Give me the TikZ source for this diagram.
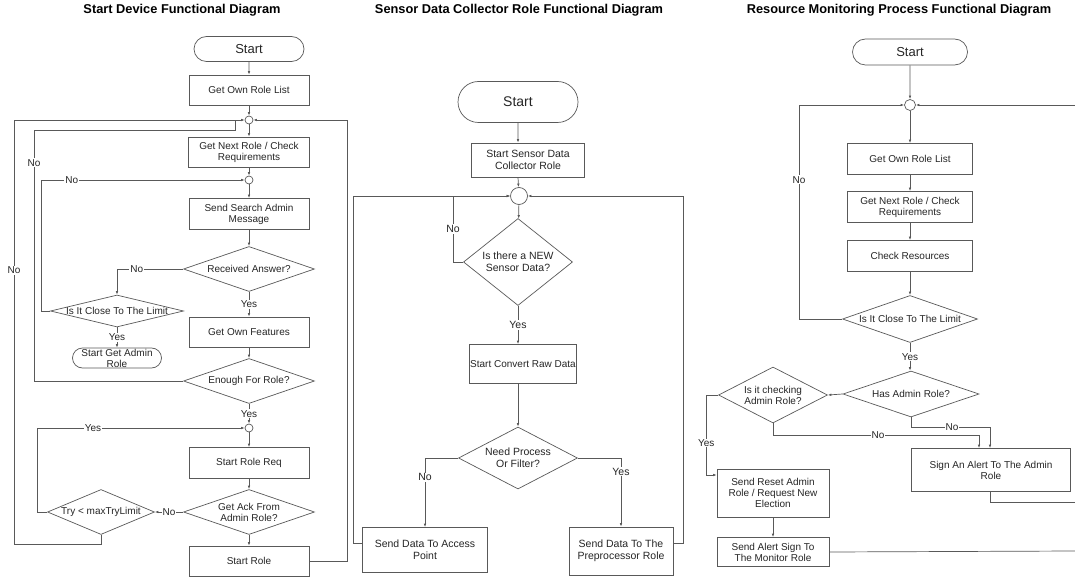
\documentclass[tikz,border=0pt]{standalone}
\usepackage{fontspec}
\setmainfont{Liberation Sans}
\usetikzlibrary{shapes.geometric,shapes.misc,arrows.meta}

\begin{document}
\begin{tikzpicture}[x=1pt, y=-1pt,
    every node/.style = {font=\fontsize{10}{11}\selectfont, text=black!85, align=center},
    proc/.style = {rectangle, draw=black!65, line width=0.7pt, inner sep=1pt},
    term/.style = {rounded rectangle, draw=black!65, line width=0.7pt, inner sep=1pt,
      font=\fontsize{13}{15}\selectfont},
    decision/.style = {diamond, draw=black!65, line width=0.7pt, inner sep=0pt},
    junct/.style = {circle, draw=black!65, line width=0.7pt, inner sep=0pt, minimum size=8},
    title/.style = {font=\bfseries\fontsize{12.8}{14}\selectfont, text=black},
    mid/.style = {font=\fontsize{10.5}{12}\selectfont},
    flow/.style = {draw=black!65, line width=0.7pt, -{Latex[length=3.5pt,width=2.6pt]}},
    wire/.style = {draw=black!65, line width=0.7pt},
    lbl/.style = {fill=white, inner sep=1pt}]
  \path[use as bounding box, fill=white] (0,0) rectangle (1075,577);

  \node[title] (t1) at (182,10) {Start Device Functional Diagram};
  \node[term, minimum width=112, minimum height=25] (s1) at (249,49) {Start};
  \node[proc, minimum width=120, minimum height=30] (own1) at (249,90) {Get Own Role List};
  \node[junct] (j1) at (249,120) {};
  \node[proc, minimum width=121, minimum height=30] (next1) at (249,152) {Get Next Role / Check\\Requirements};
  \node[junct] (j2) at (249,180) {};
  \node[proc, minimum width=120, minimum height=31] (send1) at (249,214) {Send Search Admin\\Message};
  \node[decision, minimum width=131, minimum height=45, label=center:Received Answer?] (recv) at (249,269) {};
  \node[decision, minimum width=133, minimum height=32, label=center:Is It Close To The Limit] (close1) at (117,311) {};
  \node[term, minimum width=91, minimum height=20, label=center:Start Get Admin\\Role] (sga) at (117,358) {};
  \node[proc, minimum width=120, minimum height=30] (feat1) at (249,332) {Get Own Features};
  \node[decision, minimum width=131, minimum height=45, label=center:Enough For Role?] (enough) at (249,381) {};
  \node[junct] (j3) at (249,428) {};
  \node[proc, minimum width=120, minimum height=31] (req1) at (249,463) {Start Role Req};
  \node[decision, minimum width=131, minimum height=45, label=center:Get Ack From\\Admin Role?] (ack) at (249,512) {};
  \node[decision, minimum width=107, minimum height=45, label=center:Try < maxTryLimit] (try) at (101,512) {};
  \node[proc, minimum width=120, minimum height=30] (role1) at (249,561) {Start Role};

  \draw[flow] (s1) -- (own1);
  \draw[flow] (own1) -- (j1);
  \draw[flow] (j1) -- (next1);
  \draw[flow] (next1) -- (j2);
  \draw[flow] (j2) -- (send1);
  \draw[flow] (send1) -- (recv);
  \draw[flow] (recv) -- node[lbl]{Yes} (feat1);
  \draw[flow] (recv.west) -| node[lbl, pos=0.35]{No} (close1.north);
  \draw[flow] (close1) -- node[lbl]{Yes} (sga);
  \draw[flow] (close1.west) -- ++(-9,0) |- node[lbl, pos=0.575]{No} (j2.west);
  \draw[flow] (feat1) -- (enough);
  \draw[flow] (enough) -- node[lbl]{Yes} (j3);
  \draw[wire] (enough.west) -- (34,381) -- node[lbl, pos=0.87]{No} (34,130) -- (235,130) -- (235,120);
  \draw[flow] (try.south) -- (101,544) -- (14,544) -- node[lbl, pos=0.646]{No} (14,120) -- (j1.west);
  \draw[flow] (j3) -- (req1);
  \draw[flow] (req1) -- (ack);
  \draw[flow] (ack) -- (role1);
  \draw[flow] (ack.west) -- node[lbl]{No} (try.east);
  \draw[flow] (try.west) -- (37,512) |- node[lbl, pos=0.635]{Yes} (j3.west);
  \draw[flow] (role1.east) -- (347,561) |- (j1.east);

  \node[title] (t2) at (519,10) {Sensor Data Collector Role Functional Diagram};
  \node[term, minimum width=122, minimum height=41, font=\fontsize{14}{16}\selectfont] (s2) at (518,102) {Start};
  \node[proc, mid, minimum width=113, minimum height=34] (ssd) at (528,160) {Start Sensor Data\\Collector Role};
  \node[junct, minimum size=17] (j4) at (519,196) {};
  \node[decision, minimum width=109, minimum height=87,
    label={[mid]center:Is there a NEW\\Sensor Data?}] (newd) at (518,262) {};
  \node[proc, minimum width=107, minimum height=39] (conv) at (523,364) {Start Convert Raw Data};
  \node[decision, minimum width=119, minimum height=62,
    label={[mid]center:Need Process\\Or Filter?}] (need) at (518,458) {};
  \node[proc, mid, minimum width=125, minimum height=45] (ap) at (425,550) {Send Data To Access\\Point};
  \node[proc, mid, minimum width=104, minimum height=48] (pre) at (621,551) {Send Data To The\\Preprocessor Role};

  \draw[flow] (s2) -- (s2 |- ssd.north);
  \draw[flow] (s2 |- ssd.south) -- (j4);
  \draw[flow] (j4) -- (newd);
  \draw[flow] (newd) -- node[lbl, mid]{Yes} (newd |- conv.north);
  \draw[flow] (conv.south -| need) -- (need);
  \draw[flow] (newd.west) -- (453,262) -- node[lbl, mid]{No} (453,196) -- (j4.west);
  \draw[flow] ([yshift=7]ap.west) -- (353,543) |- (j4.west);
  \draw[flow] ([yshift=8]pre.east) -- (683,543) |- (j4.east);
  \draw[flow] (need.west) -| node[lbl, mid, pos=0.64]{No} (ap.north);
  \draw[flow] (need.east) -| node[lbl, mid, pos=0.6]{Yes} (pre.north);

  \node[title] (t3) at (899,10) {Resource Monitoring Process Functional Diagram};
  \node[term, minimum width=117, minimum height=26] (s3) at (910,52) {Start};
  \node[junct, minimum size=11] (j5) at (910,105) {};
  \node[proc, minimum width=125, minimum height=31] (own3) at (910,159) {Get Own Role List};
  \node[proc, minimum width=125, minimum height=31] (next3) at (910,207) {Get Next Role / Check\\Requirements};
  \node[proc, minimum width=125, minimum height=31] (chk) at (910,256) {Check Resources};
  \node[decision, minimum width=135, minimum height=47, label=center:Is It Close To The Limit] (close3) at (910,319) {};
  \node[decision, minimum width=136, minimum height=46, label=center:Has Admin Role?] (hasadm) at (911,394) {};
  \node[decision, minimum width=109, minimum height=56, label=center:Is it checking\\Admin Role?] (isadm) at (773,395) {};
  \node[proc, minimum width=159, minimum height=43] (alert) at (991,470) {Sign An Alert To The Admin\\Role};
  \node[proc, minimum width=112, minimum height=48] (reset) at (773,493) {Send Reset Admin\\Role / Request New\\Election};
  \node[proc, minimum width=112, minimum height=29] (mon) at (773,552) {Send Alert Sign To\\The Monitor Role};
  \coordinate (e0) at (1075,105);
  \coordinate (e1) at (1075,502);
  \coordinate (e2) at (1075,551);

  \draw[flow] (s3) -- (j5);
  \draw[flow] (j5) -- (own3);
  \draw[flow] (own3) -- (next3);
  \draw[flow] (next3) -- (chk);
  \draw[flow] (chk) -- (close3);
  \draw[flow] (close3.west) -- (799,319) -- node[lbl, pos=0.65]{No} (799,105) -- (j5.west);
  \draw[flow] (e0) -- (j5.east);
  \draw[flow] (close3) -- node[lbl]{Yes} (close3 |- hasadm.north);
  \draw[flow] (hasadm.west) -- (isadm.east);
  \draw[flow] (hasadm.south) -- ++(0,10) -| node[lbl, pos=0.26]{No} ([xshift=-1]alert.north);
  \draw[flow] (isadm.south) -- ++(0,12) -| node[lbl, pos=0.255]{No} ([xshift=-12]alert.north);
  \draw[flow] (isadm.west) -- ++(-12,0) |- node[lbl, pos=0.3]{Yes} ([yshift=18]reset.west);
  \draw[flow] (reset) -- (mon);
  \draw[wire] ([xshift=-1]alert.south) |- (e1);
  \draw[wire] (mon.east) -- (e2);
\end{tikzpicture}
\end{document}
